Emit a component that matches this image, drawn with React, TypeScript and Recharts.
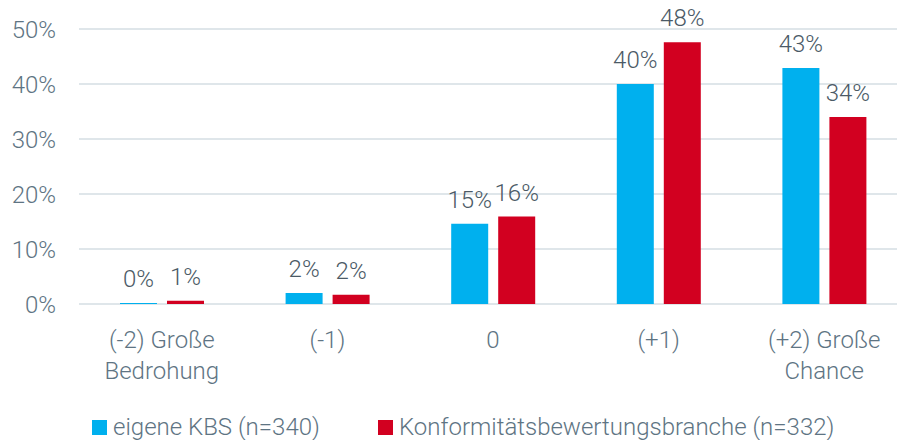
import { BarChart, Bar, XAxis, YAxis, CartesianGrid, LabelList } from 'recharts'

const categories = ['(-2) Große\nBedrohung', '(-1)', '0', '(+1)', '(+2) Große\nChance']
const eigeneKbs = [0.2, 2.0, 14.6, 40.0, 42.9]
const branche = [0.6, 1.7, 15.9, 47.6, 34.0]
const yTicks = [0, 10, 20, 30, 40, 50]
const seriesNames = ['eigene KBS (n=340)', 'Konformitätsbewertungsbranche (n=332)']

const BLUE = '#00B0EE'
const RED = '#D20020'
const TICK = '#5E7483'
const LABEL = '#4B5A66'
const FONT = 'Roboto, "Open Sans", sans-serif'
const FS = 24

const data = categories.map((c, i) => ({ name: c, kbs: eigeneKbs[i], branche: branche[i] }))

function CategoryTick({ x, y, payload }: { x?: number; y?: number; payload?: { value: string } }) {
  const lines = String(payload?.value ?? '').split('\n')
  return (
    <text x={x} y={(y ?? 0) + 44} textAnchor="middle" fill={TICK} fontSize={FS} fontWeight={300} fontFamily={FONT}>
      {lines.map((l, i) => (
        <tspan key={i} x={x} dy={i === 0 ? 0 : 31}>
          {l}
        </tspan>
      ))}
    </text>
  )
}

export default function App() {
  const colors = [BLUE, RED]
  const legendX = [92, 378]
  return (
    <div style={{ position: 'absolute', left: 0, top: 0, width: 897, height: 440, overflow: 'hidden', background: '#fff', fontFamily: FONT }}>
      <BarChart
        width={915}
        height={440}
        data={data}
        margin={{ top: 29, right: 8, left: 0, bottom: 0 }}
        barSize={37}
        barGap={10}
      >
        <CartesianGrid vertical={false} stroke="#D5DEE3" strokeWidth={1.5} />
        <XAxis
          dataKey="name"
          axisLine={false}
          tickLine={false}
          tickSize={0}
          tickMargin={0}
          height={136}
          interval={0}
          tick={<CategoryTick />}
        />
        <YAxis
          domain={[0, 50]}
          ticks={yTicks}
          width={79}
          axisLine={false}
          tickLine={false}
          tickSize={0}
          tickMargin={23}
          tickFormatter={(v: number) => `${v}%`}
          tick={{ fill: TICK, fontSize: FS, fontWeight: 300, fontFamily: FONT }}
        />
        <Bar dataKey="kbs" fill={BLUE} isAnimationActive={false}>
          <LabelList
            dataKey="kbs"
            position="top"
            offset={16}
            formatter={(v: number) => `${Math.round(v)}%`}
            style={{ fill: LABEL, fontSize: FS, fontWeight: 300, fontFamily: FONT }}
          />
        </Bar>
        <Bar dataKey="branche" fill={RED} isAnimationActive={false}>
          <LabelList
            dataKey="branche"
            position="top"
            offset={16}
            formatter={(v: number) => `${Math.round(v)}%`}
            style={{ fill: LABEL, fontSize: FS, fontWeight: 300, fontFamily: FONT }}
          />
        </Bar>
      </BarChart>
      {seriesNames.map((n, i) => (
        <div key={n} style={{ position: 'absolute', left: legendX[i], top: 412, display: 'flex', alignItems: 'flex-end', color: TICK, fontSize: FS, fontWeight: 300, lineHeight: '30px', whiteSpace: 'nowrap' }}>
          <span style={{ display: 'inline-block', width: 15, height: 15, background: colors[i], marginRight: 6, marginBottom: 7 }} />
          <span>{n}</span>
        </div>
      ))}
    </div>
  )
}
